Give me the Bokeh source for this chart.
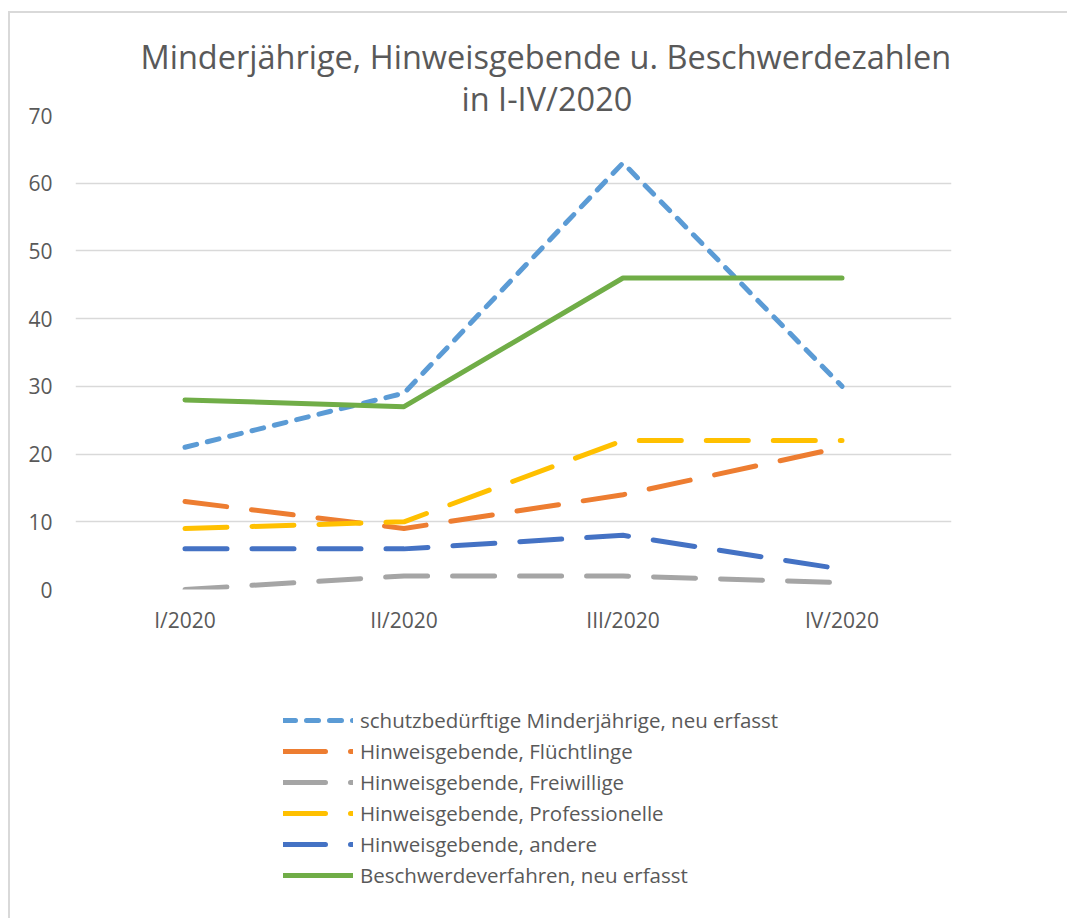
from bokeh.plotting import figure
from bokeh.models import Range1d, FixedTicker, Legend, LegendItem, Title
from bokeh.layouts import column
from bokeh.embed import file_html
from bokeh.resources import INLINE

# ---- data ----
quarters = ["I/2020", "II/2020", "III/2020", "IV/2020"]
minderjaehrige = [21, 29, 63, 30]
fluechtlinge = [13, 9, 14, 21]
freiwillige = [0, 2, 2, 1]
professionelle = [9, 10, 22, 22]
andere = [6, 6, 8, 3]
beschwerde = [28, 27, 46, 46]

series_names = [
    "schutzbedürftige Minderjährige, neu erfasst",
    "Hinweisgebende, Flüchtlinge",
    "Hinweisgebende, Freiwillige",
    "Hinweisgebende, Professionelle",
    "Hinweisgebende, andere",
    "Beschwerdeverfahren, neu erfasst",
]
series_values = [minderjaehrige, fluechtlinge, freiwillige, professionelle, andere, beschwerde]
colors = ["#5B9BD5", "#ED7D31", "#A5A5A5", "#FFC000", "#4472C4", "#70AD47"]
dashes = ["12 11", "42 25", "42 25", "42 25", "42 25", "solid"]

title_line1 = "Minderjährige, Hinweisgebende u. Beschwerdezahlen"
title_line2 = "in I-IV/2020"

FONT = "Open Sans"
TEXT = "#595959"

xs = list(range(len(quarters)))

# ---- main chart ----
p = figure(width=1057, height=647, output_backend="svg", toolbar_location=None,
           x_range=Range1d(-0.5, 3.5), y_range=Range1d(0, 70),
           min_border_left=65, min_border_right=116, min_border_top=102, min_border_bottom=71)
p.outline_line_color = None
p.background_fill_color = "white"
p.border_fill_color = "white"

for t, so, off in ((title_line2, -10, 386), (title_line1, 0, 65)):
    p.add_layout(Title(text=t, align="left", offset=off, text_font=FONT, text_font_size="32.5px",
                       text_font_style="normal", text_color=TEXT, standoff=so), "above")

p.xgrid.grid_line_color = None
p.ygrid.grid_line_color = "#D9D9D9"
p.ygrid.grid_line_width = 1.3

p.yaxis.ticker = FixedTicker(ticks=list(range(0, 71, 10)))
p.xaxis.ticker = FixedTicker(ticks=xs)
p.xaxis.major_label_overrides = {i: q for i, q in enumerate(quarters)}
for ax in (p.xaxis, p.yaxis):
    ax.axis_line_color = None
    ax.major_tick_line_color = None
    ax.minor_tick_line_color = None
    ax.major_label_text_font = FONT
    ax.major_label_text_font_size = "21px"
    ax.major_label_text_color = TEXT
p.yaxis.major_label_standoff = 17
p.xaxis.major_label_standoff = 10

for name, vals, c, d in zip(series_names, series_values, colors, dashes):
    p.line(xs, vals, line_color=c, line_width=5, line_dash=d, line_cap="round", line_join="round")

# ---- legend panel (below the chart) ----
q = figure(width=1057, height=258, output_backend="svg", toolbar_location=None,
           x_range=Range1d(0, 1000), y_range=Range1d(0, 258),
           min_border_left=0, min_border_right=0, min_border_top=0, min_border_bottom=0,
           x_axis_location=None, y_axis_location=None)
q.grid.visible = False
q.outline_line_color = None
q.background_fill_color = "white"
q.border_fill_color = "white"

items = []
for name, c, d in zip(series_names, colors, dashes):
    # legend sample renderers: a tiny segment kept outside the visible range
    r = q.line(x=[-50, -40], y=[-50, -50], line_color=c, line_width=5, line_dash=d,
               line_cap="round", line_join="round")
    items.append(LegendItem(label=name, renderers=[r]))

legend = Legend(items=items, location=(208, 29), orientation="vertical",
                border_line_color=None, background_fill_alpha=0, padding=0, margin=0,
                glyph_width=70, glyph_height=28, label_standoff=7, spacing=3,
                label_text_font=FONT, label_text_font_size="20.5px", label_text_color=TEXT,
                label_height=28)
q.add_layout(legend)

layout = column(p, q, spacing=0)
layout.styles = {"margin-left": "8px", "margin-top": "11px",
                 "border-left": "2px solid #D9D9D9", "border-top": "2px solid #D9D9D9"}

open("out.html", "w").write(file_html(layout, INLINE))
